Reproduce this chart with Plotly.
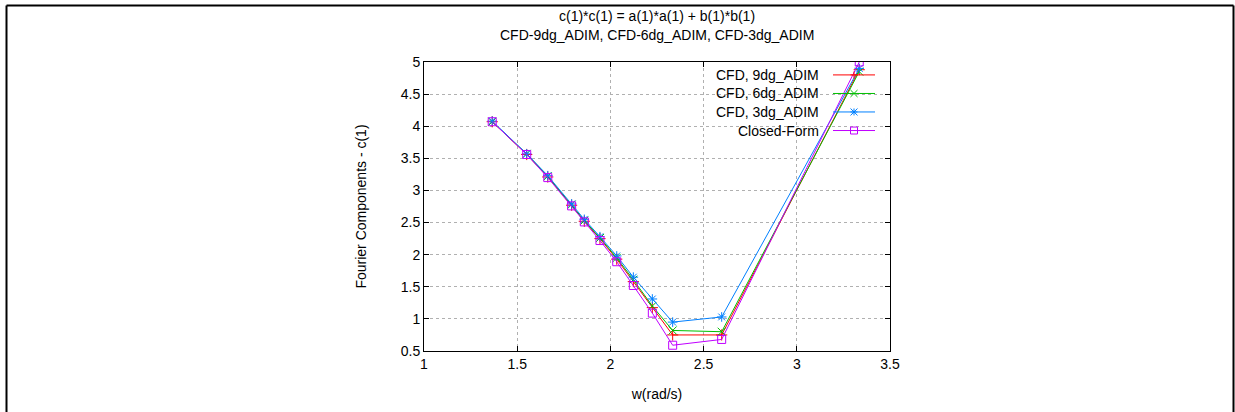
import plotly.graph_objects as go

# ---- data ----
w = [1.366, 1.551, 1.664, 1.792, 1.860, 1.944, 2.034, 2.123, 2.225, 2.334, 2.597, 3.335]
cfd_9dg = [4.07, 3.56, 3.21, 2.77, 2.52, 2.25, 1.93, 1.58, 1.175, 0.75, 0.75, 4.88]
cfd_6dg = [4.07, 3.57, 3.22, 2.78, 2.53, 2.26, 1.95, 1.61, 1.20, 0.82, 0.80, 4.85]
cfd_3dg = [4.08, 3.57, 3.23, 2.79, 2.55, 2.28, 1.98, 1.65, 1.31, 0.95, 1.03, 4.90]
closed_form = [4.07, 3.56, 3.20, 2.76, 2.51, 2.22, 1.89, 1.52, 1.09, 0.59, 0.68, 5.00]

names = ["CFD, 9dg_ADIM", "CFD, 6dg_ADIM", "CFD, 3dg_ADIM", "Closed-Form"]
series = [cfd_9dg, cfd_6dg, cfd_3dg, closed_form]
colors = ["#ff0000", "#00c000", "#0080ff", "#c000ff"]
symbols = ["cross-thin-open", "x-thin-open", "asterisk-open", "square-open"]

x_ticks = [1, 1.5, 2, 2.5, 3, 3.5]
y_ticks = [0.5, 1, 1.5, 2, 2.5, 3, 3.5, 4, 4.5, 5]

W, H = 1235, 412
L, R, T, B = 424, 890, 62, 353  # plot area in pixels
PW, PH = R - L, B - T

def px(x):
    return (x - L) / PW

def py(y):
    return (B - y) / PH

FONT = "Liberation Sans, Arial, sans-serif"
FS = 14

fig = go.Figure()
for name, vals, col, sym in zip(names, series, colors, symbols):
    fig.add_trace(go.Scatter(
        x=w, y=vals, name=name, mode="lines+markers",
        line=dict(color=col, width=1),
        marker=dict(symbol=sym, size=8, color=col, line=dict(color=col, width=1)),
        showlegend=False,
    ))

shapes = []
annotations = []

# outer frame (left, top, right edges)
shapes.append(dict(type="line", xref="paper", yref="paper",
                   x0=px(6.5), y0=py(420), x1=px(6.5), y1=py(5),
                   line=dict(color="black", width=2)))
shapes.append(dict(type="line", xref="paper", yref="paper",
                   x0=px(6.5), y0=py(5), x1=px(1233.5), y1=py(5),
                   line=dict(color="black", width=2)))
shapes.append(dict(type="line", xref="paper", yref="paper",
                   x0=px(1233.5), y0=py(5), x1=px(1233.5), y1=py(420),
                   line=dict(color="black", width=2)))

# custom legend (text right-aligned, sample on the right, gnuplot style)
rows = [75, 93.7, 112.3, 131]
for name, col, sym, yy in zip(names, colors, symbols, rows):
    annotations.append(dict(xref="paper", yref="paper", x=px(821), y=py(yy),
                            xanchor="right", yanchor="middle", showarrow=False,
                            text=name, font=dict(family=FONT, size=FS, color="black")))
    shapes.append(dict(type="line", xref="paper", yref="paper",
                       x0=px(833), x1=px(875), y0=py(yy), y1=py(yy),
                       line=dict(color=col, width=1)))
    cx, cy, s = 854, yy, 3.5
    segs = []
    if sym.startswith("cross") or sym.startswith("asterisk"):
        segs.append((cx, cy - s, cx, cy + s))
        segs.append((cx - s, cy, cx + s, cy))
    if sym.startswith("x") or sym.startswith("asterisk"):
        segs.append((cx - s, cy - s, cx + s, cy + s))
        segs.append((cx - s, cy + s, cx + s, cy - s))
    for a, b, c, d in segs:
        shapes.append(dict(type="line", xref="paper", yref="paper",
                           x0=px(a), y0=py(b), x1=px(c), y1=py(d),
                           line=dict(color=col, width=1)))
    if sym.startswith("square"):
        shapes.append(dict(type="rect", xref="paper", yref="paper",
                           x0=px(cx - s), y0=py(cy - s), x1=px(cx + s), y1=py(cy + s),
                           line=dict(color=col, width=1), fillcolor="rgba(0,0,0,0)"))

# title (two lines)
annotations.append(dict(xref="paper", yref="paper", x=0.5, y=py(16), showarrow=False,
                        xanchor="center", yanchor="middle",
                        text="c(1)*c(1) = a(1)*a(1) + b(1)*b(1)",
                        font=dict(family=FONT, size=FS, color="black")))
annotations.append(dict(xref="paper", yref="paper", x=0.5, y=py(35), showarrow=False,
                        xanchor="center", yanchor="middle",
                        text="CFD-9dg_ADIM, CFD-6dg_ADIM, CFD-3dg_ADIM",
                        font=dict(family=FONT, size=FS, color="black")))

axis_common = dict(
    showline=True, linecolor="black", linewidth=1, mirror="ticks",
    ticks="inside", ticklen=5, tickcolor="black", tickwidth=1,
    showgrid=True, gridcolor="#b0b0b0", griddash="dot", gridwidth=1,
    zeroline=False, tickfont=dict(family=FONT, size=FS, color="black"),
)

fig.update_layout(
    width=W, height=H,
    margin=dict(l=L, r=W - R, t=T, b=H - B, pad=0),
    paper_bgcolor="white", plot_bgcolor="white",
    font=dict(family=FONT, size=FS, color="black"),
    xaxis=dict(range=[1, 3.5], tickvals=x_ticks, ticktext=[f"{v:g}" for v in x_ticks],
               title=dict(text="w(rad/s)", standoff=18,
                          font=dict(family=FONT, size=FS, color="black")),
               **axis_common),
    yaxis=dict(range=[0.5, 5], tickvals=y_ticks, ticktext=[f"{v:g}" for v in y_ticks],
               title=dict(text="Fourier Components - c(1)", standoff=30,
                          font=dict(family=FONT, size=FS, color="black")),
               **axis_common),
    shapes=shapes, annotations=annotations,
    showlegend=False,
)

fig.write_html("out.html")
